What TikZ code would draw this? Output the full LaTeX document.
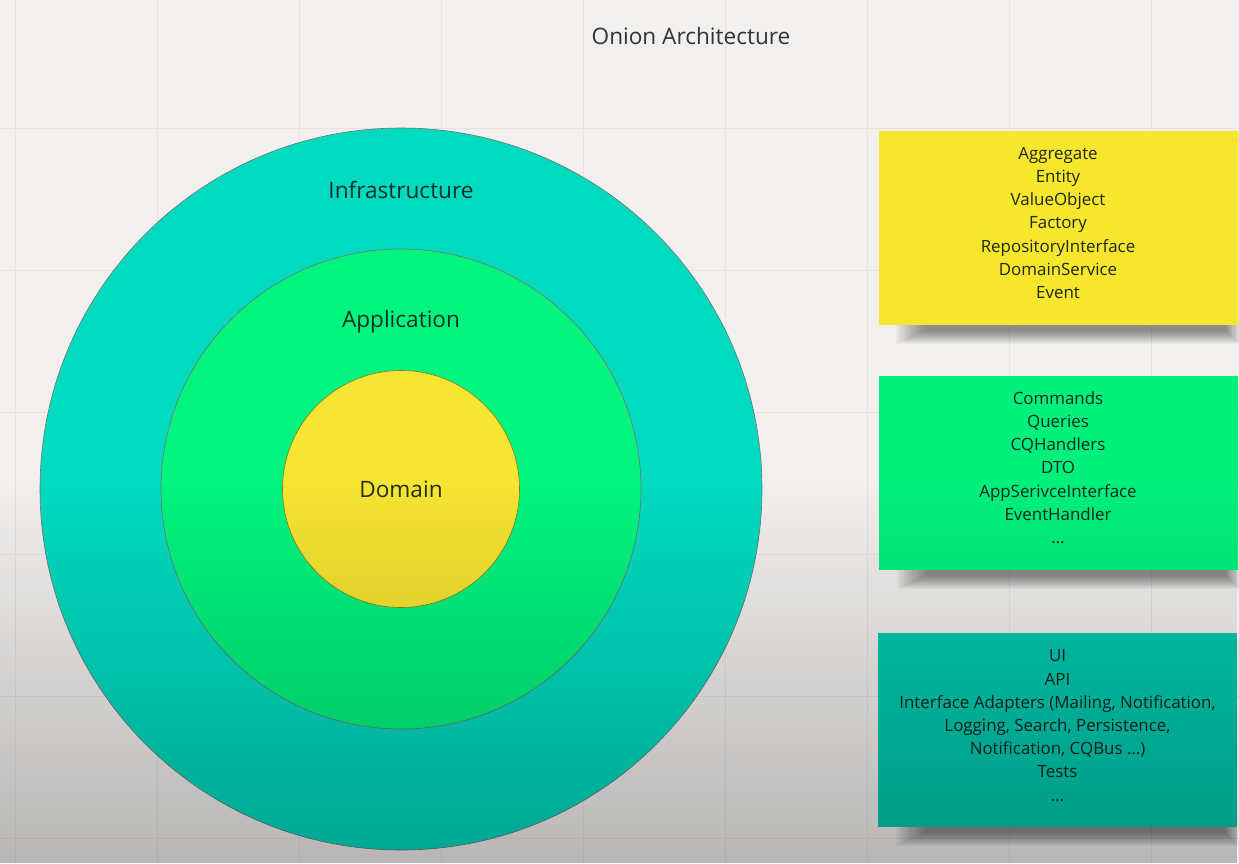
\documentclass[tikz,border=0pt]{standalone}
\usepackage{fontspec}
\setmainfont{Open Sans}
\usetikzlibrary{fadings}

% palette
\definecolor{paper}{HTML}{F1F0EF}
\definecolor{gridline}{HTML}{E4E3E2}
\definecolor{infra}{HTML}{00DBC0}
\definecolor{app}{HTML}{00F47E}
\definecolor{dom}{HTML}{F6E532}
\definecolor{notey}{HTML}{F6E62C}
\definecolor{noteg}{HTML}{00F07C}
\definecolor{notet}{HTML}{00C9AE}
\definecolor{ink}{HTML}{121C1A}

\tikzfading[name=darkenbottom, top color=transparent!100, bottom color=transparent!0]

\tikzset{
  ring/.style={circle, draw=black!55, line width=0.6pt, inner sep=0pt},
  layerlabel/.style={font=\fontsize{22.6}{26}\selectfont, text=ink, text opacity=0.9},
  note/.style={rectangle, minimum width=359pt, minimum height=194pt, align=center,
    font=\fontsize{16.9}{23.2}\selectfont, text=ink, text opacity=0.94},
  notespot/.style={inner sep=0pt, outer sep=0pt},
}

% soft shadow hanging under a note: stacked translucent rectangles
\newcommand\noteshadow[4]{% left, top, right, bottom
  \foreach \k in {0,...,13}
    \fill[black, opacity=0.035]
      ({#1+18+2.2*\k},{#2+6+\k}) rectangle ({#3+2-1.1*\k},{#4+19-\k});
}

\begin{document}
\begin{tikzpicture}[x=1pt, y=-1pt]
  % page and faint board grid
  \fill[paper] (0,0) rectangle (1239,863);
  \useasboundingbox (0,0) rectangle (1239,863);
  \foreach \gx in {15,157,...,1239} \draw[gridline, line width=0.8pt] (\gx,0) -- (\gx,863);
  \foreach \gy in {128,270,...,863} \draw[gridline, line width=0.8pt] (0,\gy) -- (1239,\gy);

  \node[font=\fontsize{22.6}{26}\selectfont, text=black!80] (title) at (691,36) {Onion Architecture};

  % the three layers
  \node[ring, fill=infra, minimum size=722pt] (infraring) at (401,489) {};
  \node[ring, fill=app, minimum size=480pt] (appring) at (401,489) {};
  \node[ring, fill=dom, minimum size=237pt, draw=black!45!dom] (domring) at (401,489) {};
  \node[layerlabel] (infralabel) at (401,190) {Infrastructure};
  \node[layerlabel] (applabel) at (401,322) {Application};
  \node[layerlabel] (domlabel) at (401,489) {Domain};

  % shadows beneath the sticky notes
  \noteshadow{878}{131}{1238}{325}
  \noteshadow{879}{375}{1238}{570}
  \noteshadow{878}{633}{1237}{827}

  % sticky notes
  \node[note, fill=notey] (domnote) at (1058,228) {};
  \node[notespot] (domtext) at (1058,223) [note, fill=none, minimum height=0pt]
    {Aggregate\\Entity\\ValueObject\\Factory\\RepositoryInterface\\DomainService\\Event};
  \node[note, fill=noteg] (appnote) at (1058,472.5) {};
  \node[notespot] (apptext) at (1058,467.5) [note, fill=none, minimum height=0pt]
    {Commands\\Queries\\CQHandlers\\DTO\\AppSerivceInterface\\EventHandler\\\dots};
  \node[note, fill=notet] (infranote) at (1057.5,730) {};
  \node[notespot] (infratext) at (1057.5,725.5) [note, fill=none, minimum height=0pt]
    {UI\\API\\Interface Adapters (Mailing, Notification,\\Logging, Search, Persistence,\\Notification, CQBus \dots)\\Tests\\\dots};

  % darker shading toward the lower edge
  \fill[black, opacity=0.24, path fading=darkenbottom] (0,480) rectangle (1239,863);
\end{tikzpicture}
\end{document}
